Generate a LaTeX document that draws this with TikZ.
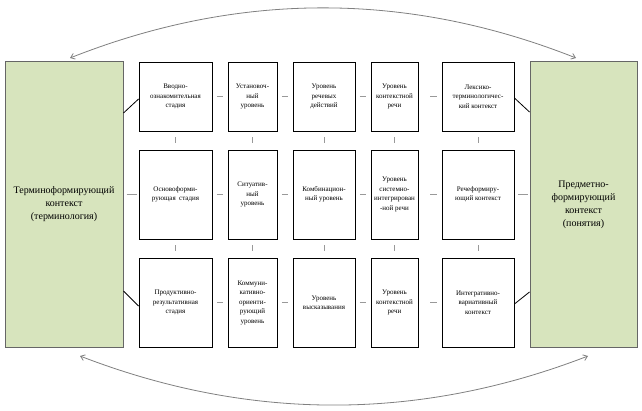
\documentclass[tikz,border=0pt]{standalone}
\usepackage{fontspec}
\setmainfont{Liberation Serif}
\usetikzlibrary{arrows.meta,calc}
\definecolor{ctxgreen}{HTML}{D7E4BD}
\begin{document}
\begin{tikzpicture}[x=1pt,y=-1pt,
  box/.style={draw=black,line width=0.9pt,fill=white,inner sep=0pt,align=center,font=\fontsize{7}{9.5}\selectfont},
  rowa/.style={minimum height=69pt},
  rowb/.style={minimum height=89pt},
  ctx/.style={draw=black!60,line width=1pt,fill=ctxgreen,inner sep=0pt,align=center,font=\fontsize{10}{13}\selectfont,minimum height=285pt},
  sep/.style={draw=black!40,line width=0.8pt},
  link/.style={draw=black,line width=0.8pt},
  cyc/.style={draw=black!50,line width=0.8pt,{Straight Barb[length=4pt,width=6pt]}-{Straight Barb[length=4pt,width=6pt]}}
]
\useasboundingbox (0,0) rectangle (642,411);
\fill[white] (0,0) rectangle (642,411);

% context boxes
\node[ctx,minimum width=118pt] (L) at (64,204.5) {Терминоформирующий\\контекст\\(терминология)};
\node[ctx,minimum width=107pt] (R) at (583.5,204.5) {Предметно-\\формирующий\\контекст\\(понятия)};

% row 1
\node[box,rowa,minimum width=73pt] (b11) at (175.5,96.5) {Вводно-\\ознакомительная\\стадия};
\node[box,rowa,minimum width=49pt] (b12) at (252.5,96.5) {Установоч-\\ный\\уровень};
\node[box,rowa,minimum width=62pt] (b13) at (324,96.5) {Уровень\\речевых\\действий};
\node[box,rowa,minimum width=47pt] (b14) at (394.5,96.5) {Уровень\\контекстной\\речи};
\node[box,rowa,minimum width=72pt] (b15) at (478,96.5) {Лексико-\\терминологичес-\\кий контекст};

% row 2
\node[box,rowb,minimum width=73pt] (b21) at (175.5,194.5) {Основоформи-\\рующая\ \ стадия};
\node[box,rowb,minimum width=49pt] (b22) at (252.5,194.5) {Ситуатив-\\ный\\уровень};
\node[box,rowb,minimum width=62pt] (b23) at (324,194.5) {Комбинацион-\\ный уровень};
\node[box,rowb,minimum width=47pt] (b24) at (394.5,194.5) {Уровень\\системно-\\интегрирован\\-ной речи};
\node[box,rowb,minimum width=72pt] (b25) at (478,194.5) {Речеформиру-\\ющий контекст};

% row 3
\node[box,rowb,minimum width=73pt] (b31) at (175.5,302.5) {Продуктивно-\\результативная\\стадия};
\node[box,rowb,minimum width=49pt] (b32) at (252.5,302.5) {Коммуни-\\кативно-\\ориенти-\\рующий\\уровень};
\node[box,rowb,minimum width=62pt] (b33) at (324,302.5) {Уровень\\высказывания};
\node[box,rowb,minimum width=47pt] (b34) at (394.5,302.5) {Уровень\\контекстной\\речи};
\node[box,rowb,minimum width=72pt] (b35) at (478,302.5) {Интегративно-\\вариативный\\контекст};

% horizontal separators
\foreach \r in {1,2,3}{
  \draw[sep,shorten <=4.5pt,shorten >=4.5pt] (b\r1) -- (b\r2);
  \draw[sep,shorten <=4.5pt,shorten >=4.5pt] (b\r2) -- (b\r3);
  \draw[sep,shorten <=4.5pt,shorten >=4.5pt] (b\r3) -- (b\r4);
  \draw[sep,shorten <=12pt,shorten >=5pt] (b\r4) -- (b\r5);
}
% vertical separators
\foreach \c in {1,...,5}{
  \draw[sep,shorten <=6pt,shorten >=7pt] (b1\c) -- (b2\c);
  \draw[sep,shorten <=6pt,shorten >=7pt] (b2\c) -- (b3\c);
}

% links to context boxes
\draw[sep,shorten <=3pt,shorten >=2pt] (L.east |- b21.west) -- (b21.west);
\draw[sep,shorten <=4pt,shorten >=2pt] (b25.east) -- (R.west |- b25.east);
\draw[link] ([yshift=91.5pt]L.east) -- ([yshift=-2.5pt]b11.west);
\draw[link] ([yshift=-86.5pt]L.east) -- ([yshift=-3.5pt]b31.west);
\draw[link] ([yshift=-1.5pt]b15.east) -- ([yshift=92.5pt]R.west);
\draw[link] ([yshift=-1.5pt]b35.east) -- ([yshift=-87.5pt]R.west);

% cycle arrows
\coordinate (t1) at (70,58);
\coordinate (t2) at (576,58);
\coordinate (u1) at (80,356);
\coordinate (u2) at (588,356);
\draw[cyc] (t1) .. controls (238.7,-8.7) and (407.3,-8.7) .. (t2);
\draw[cyc] (u1) .. controls (249.3,421.3) and (418.7,421.3) .. (u2);
\end{tikzpicture}
\end{document}
